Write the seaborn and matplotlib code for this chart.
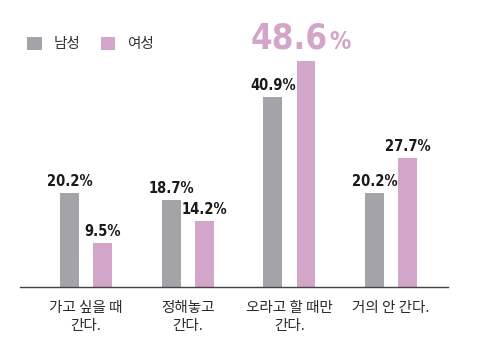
import matplotlib
matplotlib.use("Agg")
import matplotlib.pyplot as plt
import seaborn as sns
import pandas as pd
from matplotlib.patches import Patch

# Survey answers and shares (%) by gender
categories = ["가고 싶을 때\n간다.", "정해놓고\n간다.", "오라고 할 때만\n간다.", "거의 안 간다."]
male = [20.2, 18.7, 40.9, 20.2]
female = [9.5, 14.2, 48.6, 27.7]
groups = ["남성", "여성"]
palette = {"남성": "#a3a3a8", "여성": "#d3a6c9"}
highlight = ("여성", 2)  # answer with the largest share, printed large

df = pd.DataFrame({
    "answer": categories * 2,
    "gender": [groups[0]] * 4 + [groups[1]] * 4,
    "value": male + female,
})

sns.set_theme(style="white")
plt.rcParams["font.family"] = ["Noto Sans CJK KR", "DejaVu Sans"]

fig = plt.figure(figsize=(4.81, 3.47), dpi=100)
ax = fig.add_axes([20 / 481, 60 / 347, 428 / 481, 267 / 347])

sns.barplot(data=df, x="answer", y="value", hue="gender", palette=palette,
            width=0.65, gap=0.43, dodge=True, legend=False, ax=ax,
            saturation=1, edgecolor="none")

ax.set_xlim(-0.65, 3.56)
ax.set_ylim(0, 57.4)
ax.set_yticks([])
ax.set_xlabel("")
ax.set_ylabel("")
for side in ["left", "right", "top"]:
    ax.spines[side].set_visible(False)
ax.spines["bottom"].set_color("#444444")
ax.spines["bottom"].set_linewidth(1.0)
ax.tick_params(axis="x", length=0, pad=10)
for lbl in ax.get_xticklabels():
    lbl.set_fontsize(10.5)
    lbl.set_color("#2a2a2a")
    lbl.set_linespacing(1.4)

num_font = dict(family="DejaVu Sans", fontstretch="condensed", fontweight="bold")
for gi, container in enumerate(ax.containers):
    for ci, bar in enumerate(container):
        v = bar.get_height()
        cx = bar.get_x() + bar.get_width() / 2
        if (groups[gi], ci) == highlight:
            col = palette[groups[gi]]
            ax.annotate(f"{v:.1f}", xy=(cx, v), xytext=(16, 4),
                        textcoords="offset points", ha="right", va="bottom",
                        fontsize=25, color=col, **num_font)
            ax.annotate("%", xy=(cx, v), xytext=(17, 5),
                        textcoords="offset points", ha="left", va="bottom",
                        fontsize=17, color=col, **num_font)
        else:
            ax.annotate(f"{v:.1f}%", xy=(cx, v), xytext=(0, 3),
                        textcoords="offset points", ha="center", va="bottom",
                        fontsize=10.5, color="#1a1a1a", **num_font)

# Legend squares with labels
handles = [Patch(facecolor=palette[g], edgecolor="none") for g in groups]
fig.legend(handles, groups, loc="center left", bbox_to_anchor=(14 / 481, 1 - 44 / 347),
           ncol=2, frameon=False, fontsize=10.5, handlelength=1.0, handleheight=1.0,
           handletextpad=0.8, columnspacing=1.4, labelcolor="#333333")

fig.savefig("out.png", dpi=100, facecolor="white")
